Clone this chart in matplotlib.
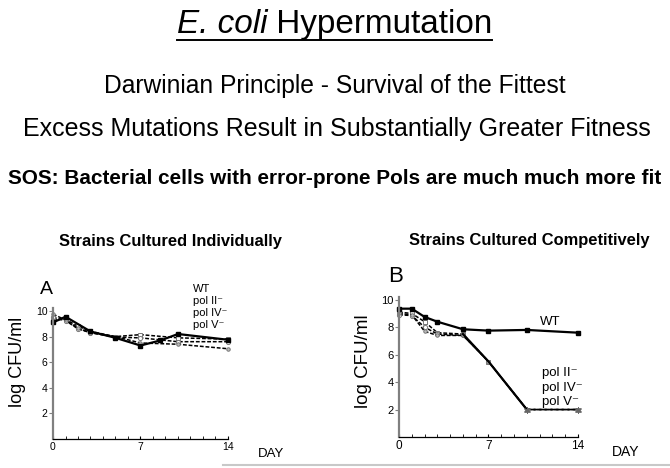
import matplotlib
matplotlib.use('Agg')
import matplotlib.pyplot as plt
from matplotlib import font_manager
from matplotlib.lines import Line2D

# panel A - strains cultured individually
daysA = [0, 1, 2, 3, 5, 7, 10, 14]
wtA_days = [0, 1, 3, 5, 7, 8.6, 10, 14]
wtA = [9.1, 9.55, 8.4, 7.9, 7.3, 7.7, 8.2, 7.75]
pol2A = [9.3, 9.35, 8.8, 8.4, 8.0, 8.15, 7.9, 7.8]
pol4A = [9.5, 9.25, 8.6, 8.3, 7.95, 7.9, 7.6, 7.6]
pol5A = [9.75, 9.3, 8.65, 8.3, 8.0, 7.5, 7.4, 7.05]

# panel B - strains cultured competitively
daysB = [0, 1, 2, 3, 5, 7, 10, 14]
wtB = [9.35, 9.35, 8.75, 8.4, 7.85, 7.75, 7.8, 7.6]
pol2B = [9.1, 9.0, 8.4, 7.6, 7.5, 5.5, 2.0, 2.0]
pol4B = [8.9, 8.85, 8.0, 7.5, 7.4, 5.5, 2.0, 2.0]
pol5B = [9.0, 8.9, 7.7, 7.4, 7.4, 5.5, 2.0, 2.0]

labels = ['WT', 'pol II\u207b', 'pol IV\u207b', 'pol V\u207b']
yticks = [2, 4, 6, 8, 10]
xticks = [0, 7, 14]

W, H = 670, 468
plt.rcParams['font.family'] = ['Liberation Sans', 'DejaVu Sans']

names = {f.name for f in font_manager.fontManager.ttflist}
narrow = 'Liberation Sans Narrow' if 'Liberation Sans Narrow' in names else 'Liberation Sans'


def fx(x):
    return x / W


def fy(y):
    return 1 - y / H


fig = plt.figure(figsize=(6.7, 4.68), dpi=100)
renderer = fig.canvas.get_renderer()

# title, italic part + regular part, underlined, fitted to 315 px
t1 = fig.text(0, fy(33), 'E. coli', style='italic', fontsize=20)
t2 = fig.text(0, fy(33), ' Hypermutation', fontsize=20)
k = 315 / (t1.get_window_extent(renderer).width + t2.get_window_extent(renderer).width)
t1.set_fontsize(20 * k)
t2.set_fontsize(20 * k)
w1 = t1.get_window_extent(renderer).width
w2 = t2.get_window_extent(renderer).width
x0 = 334.5 - (w1 + w2) / 2
t1.set_x(fx(x0))
t2.set_x(fx(x0 + w1))
fig.add_artist(Line2D([fx(x0), fx(x0 + w1 + w2)], [fy(40), fy(40)], color='black', lw=1.4))


def fit_text(x, y, s, width, **kw):
    t = fig.text(fx(x), fy(y), s, ha='center', **kw)
    w = t.get_window_extent(renderer).width
    t.set_fontsize(t.get_fontsize() * width / w)
    return t


fit_text(335, 93, 'Darwinian Principle - Survival of the Fittest', 464, family=narrow, fontsize=17)
fit_text(337, 136, 'Excess Mutations Result in Substantially Greater Fitness', 630, family=narrow, fontsize=17)
fit_text(335, 184, 'SOS: Bacterial cells with error-prone Pols are much much more fit', 654,
         family=narrow, fontsize=14, weight='bold')

fit_text(170, 246, 'Strains Cultured Individually', 225, fontsize=10, weight='bold')
fit_text(529, 245, 'Strains Cultured Competitively', 242, fontsize=10, weight='bold')


def style(ax):
    ax.set_xlim(0, 14)
    ax.set_ylim(0, 10.2)
    ax.patch.set_alpha(0)
    ax.spines['top'].set_visible(False)
    ax.spines['right'].set_visible(False)
    ax.spines['left'].set_color('#808080')
    ax.spines['left'].set_linewidth(1.6)
    ax.spines['bottom'].set_linewidth(0.9)
    ax.set_xticks(xticks)
    ax.set_xticks(range(15), minor=True)
    ax.set_yticks(yticks)
    ax.tick_params(axis='y', direction='out', length=3, color='#808080', labelsize=7.5, pad=1)
    ax.tick_params(axis='x', which='both', direction='in', length=2.5, labelsize=7.5, pad=2)


dash = dict(color='black', lw=1.1, ls=(0, (2.5, 1.2)), clip_on=False)
wt_style = dict(color='black', lw=1.6, marker='s', ms=2.6, clip_on=False)

# panel A
axA = fig.add_axes([53 / W, 1 - 439 / H, 175 / W, 130.6 / H])
style(axA)
axA.plot(daysA, pol2A, marker='s', ms=3, mfc='white', mec='#777777', mew=0.7, **dash)
axA.plot(daysA, pol4A, marker='o', ms=3, mfc='white', mec='#777777', mew=0.7, **dash)
axA.plot(daysA, pol5A, marker='o', ms=2.5, mfc='#bbbbbb', mec='#777777', mew=0.7, **dash)
axA.plot(wtA_days, wtA, **wt_style)
for i, s in enumerate(labels):
    fig.text(fx(193), fy(289 + 12 * i), s, fontsize=8, va='center')
fig.text(fx(46), fy(290), 'A', fontsize=14, ha='center', va='center')
fig.text(fx(18), fy(362), 'log CFU/ml', fontsize=13, rotation=90, ha='center', va='center')
fig.text(fx(271), fy(454), 'DAY', fontsize=9.5, ha='center', va='center')

# panel B
axB = fig.add_axes([399 / W, 1 - 437 / H, 179 / W, 140 / H])
style(axB)
axB.tick_params(axis='x', labelsize=8.5)
axB.tick_params(axis='y', labelsize=8)
axB.plot(daysB, pol2B, marker='s', ms=3, mfc='white', mec='#777777', mew=0.7, **dash)
axB.plot(daysB, pol4B, marker='o', ms=3, mfc='white', mec='#777777', mew=0.7, **dash)
axB.plot(daysB, pol5B, marker='o', ms=2.5, mfc='#bbbbbb', mec='#777777', mew=0.7,
         dashes=(2.5, 1.2), color='black', lw=1.1, clip_on=False)
axB.plot(daysB[4:7], pol2B[4:7], color='black', lw=1.6)
axB.plot(daysB[6:], pol2B[6:], ls='none', marker=(6, 2, 0), ms=5, mec='#666666', mew=0.7, clip_on=False)
axB.plot(daysB, wtB, **wt_style)
fig.text(fx(540), fy(322), labels[0], fontsize=9.5, va='center')
for i, s in enumerate(labels[1:]):
    fig.text(fx(542), fy(373 + 14.5 * i), s, fontsize=9.5, va='center')
fig.text(fx(396), fy(277), 'B', fontsize=16, ha='center', va='center')
fig.text(fx(363), fy(361), 'log CFU/ml', fontsize=13.5, rotation=90, ha='center', va='center')
fig.text(fx(626), fy(452), 'DAY', fontsize=10, ha='center', va='center')

# grey rule at the bottom
fig.add_artist(Line2D([fx(223), 1], [fy(465), fy(465)], color='#c8c8c8', lw=1.5))

fig.savefig('out.png', dpi=100)
